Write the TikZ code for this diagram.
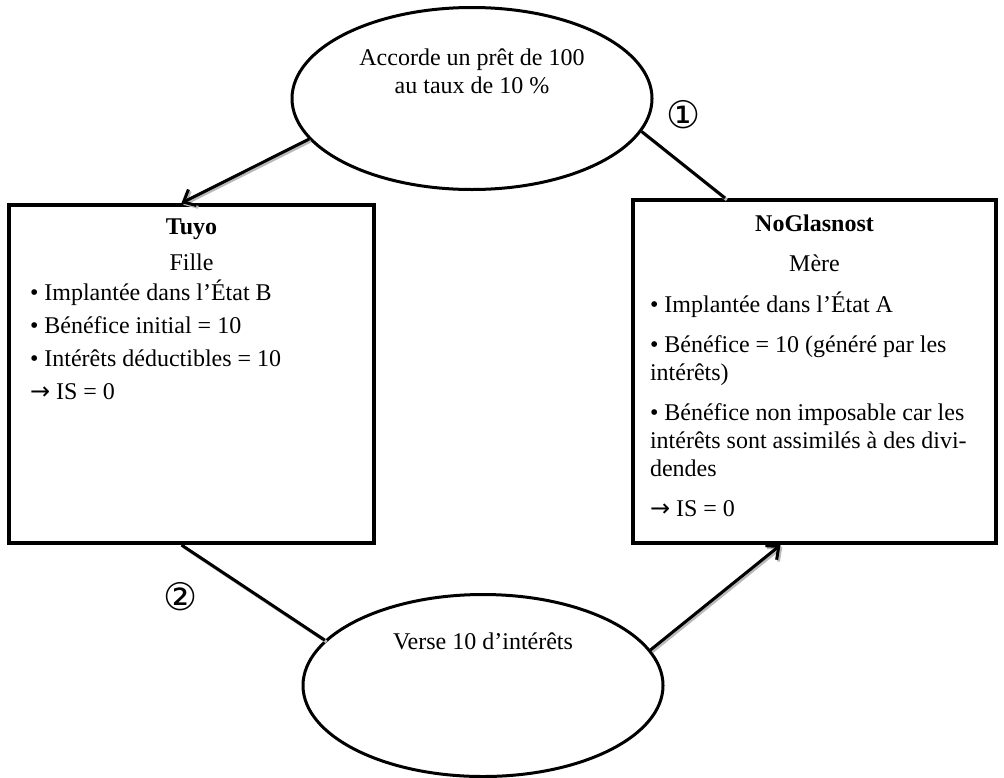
\documentclass[tikz,border=0pt]{standalone}
\usepackage{fontspec}
\setmainfont{Liberation Serif}
\newfontfamily\cerclefont{DejaVu Sans}
\usetikzlibrary{positioning,shapes.geometric,arrows.meta}

\begin{document}
\begin{tikzpicture}
            [x=0.5pt,y=-0.5pt,>={Straight Barb[length=5pt,width=9pt]},
            font=\fontsize{12}{14}\selectfont,
            bulle/.style={ellipse,draw,line width=1.5pt,inner sep=0pt,
                minimum width=180pt,minimum height=91pt},
            boite/.style={rectangle,draw,line width=2pt,inner sep=0pt},
            txt/.style={inner sep=0pt,outer sep=0pt},
            lien/.style={line width=1.5pt,
                preaction={draw=gray!55,line width=1.5pt,
                    transform canvas={shift={(0.9pt,-0.9pt)}}}},
            num/.style={inner sep=0pt,font=\cerclefont\fontsize{19}{19}\selectfont}]
            \useasboundingbox (0,0) rectangle (1004,777);
            \node[bulle] (pret) at (472,98.5) {};
            \node[bulle] (verse) at (483,685.5) {};
            \node[boite,minimum width=182.5pt,minimum height=169pt] (tuyo) at (191.5,374) {};
            \node[boite,minimum width=181.5pt,minimum height=171.5pt] (noglas) at (814.5,371.5) {};
            \node[txt,align=center,below=19.7pt of pret.north] (pretlbl)
                {\strut Accorde un prêt de 100\\au taux de 10~\%};
            \node[txt,align=center,below=18.2pt of verse.north] (verselbl)
                {\strut Verse 10 d’intérêts};
            \node[txt,align=center,below=5.7pt of tuyo.north] (tuyotitre)
                {\strut\textbf{Tuyo}\\[4pt]Fille};
            \node[txt,align=left,below right=38.2pt and 11.5pt of tuyo.north west] (tuyotexte)
                {\strut• Implantée dans l’État B\\[2.5pt]
                • Bénéfice initial = 10\\[2.5pt]
                • Intérêts déductibles = 10\\[2.5pt]
                {\cerclefont →} IS = 0};
            \node[txt,align=center,below=6.7pt of noglas.north] (noglastitre)
                {\strut\textbf{NoGlasnost}\\[6pt]Mère};
            \node[txt,align=left,below right=46.7pt and 9.5pt of noglas.north west] (noglastexte)
                {\strut• Implantée dans l’État A\\[6pt]
                • Bénéfice = 10 (généré par les\\intérêts)\\[6pt]
                • Bénéfice non imposable car les\\intérêts sont assimilés à des divi-\\dendes\\[6pt]
                {\cerclefont →} IS = 0};
            \node[num] (un) at (684,115) {①};
            \node[num] (deux) at (181,597) {②};
            % pret -> Tuyo, puis interets -> NoGlasnost
            \draw[lien,->] (pret.194.5) -- ([xshift=-5pt]tuyo.north);
            \draw[lien] (pret.349.5) -- ([xshift=47pt]noglas.north west);
            \draw[lien] ([xshift=-5pt]tuyo.south) -- (verse.164);
            \draw[lien,->] (verse.12) -- ([xshift=-17pt]noglas.south);
        \end{tikzpicture}
\end{document}
